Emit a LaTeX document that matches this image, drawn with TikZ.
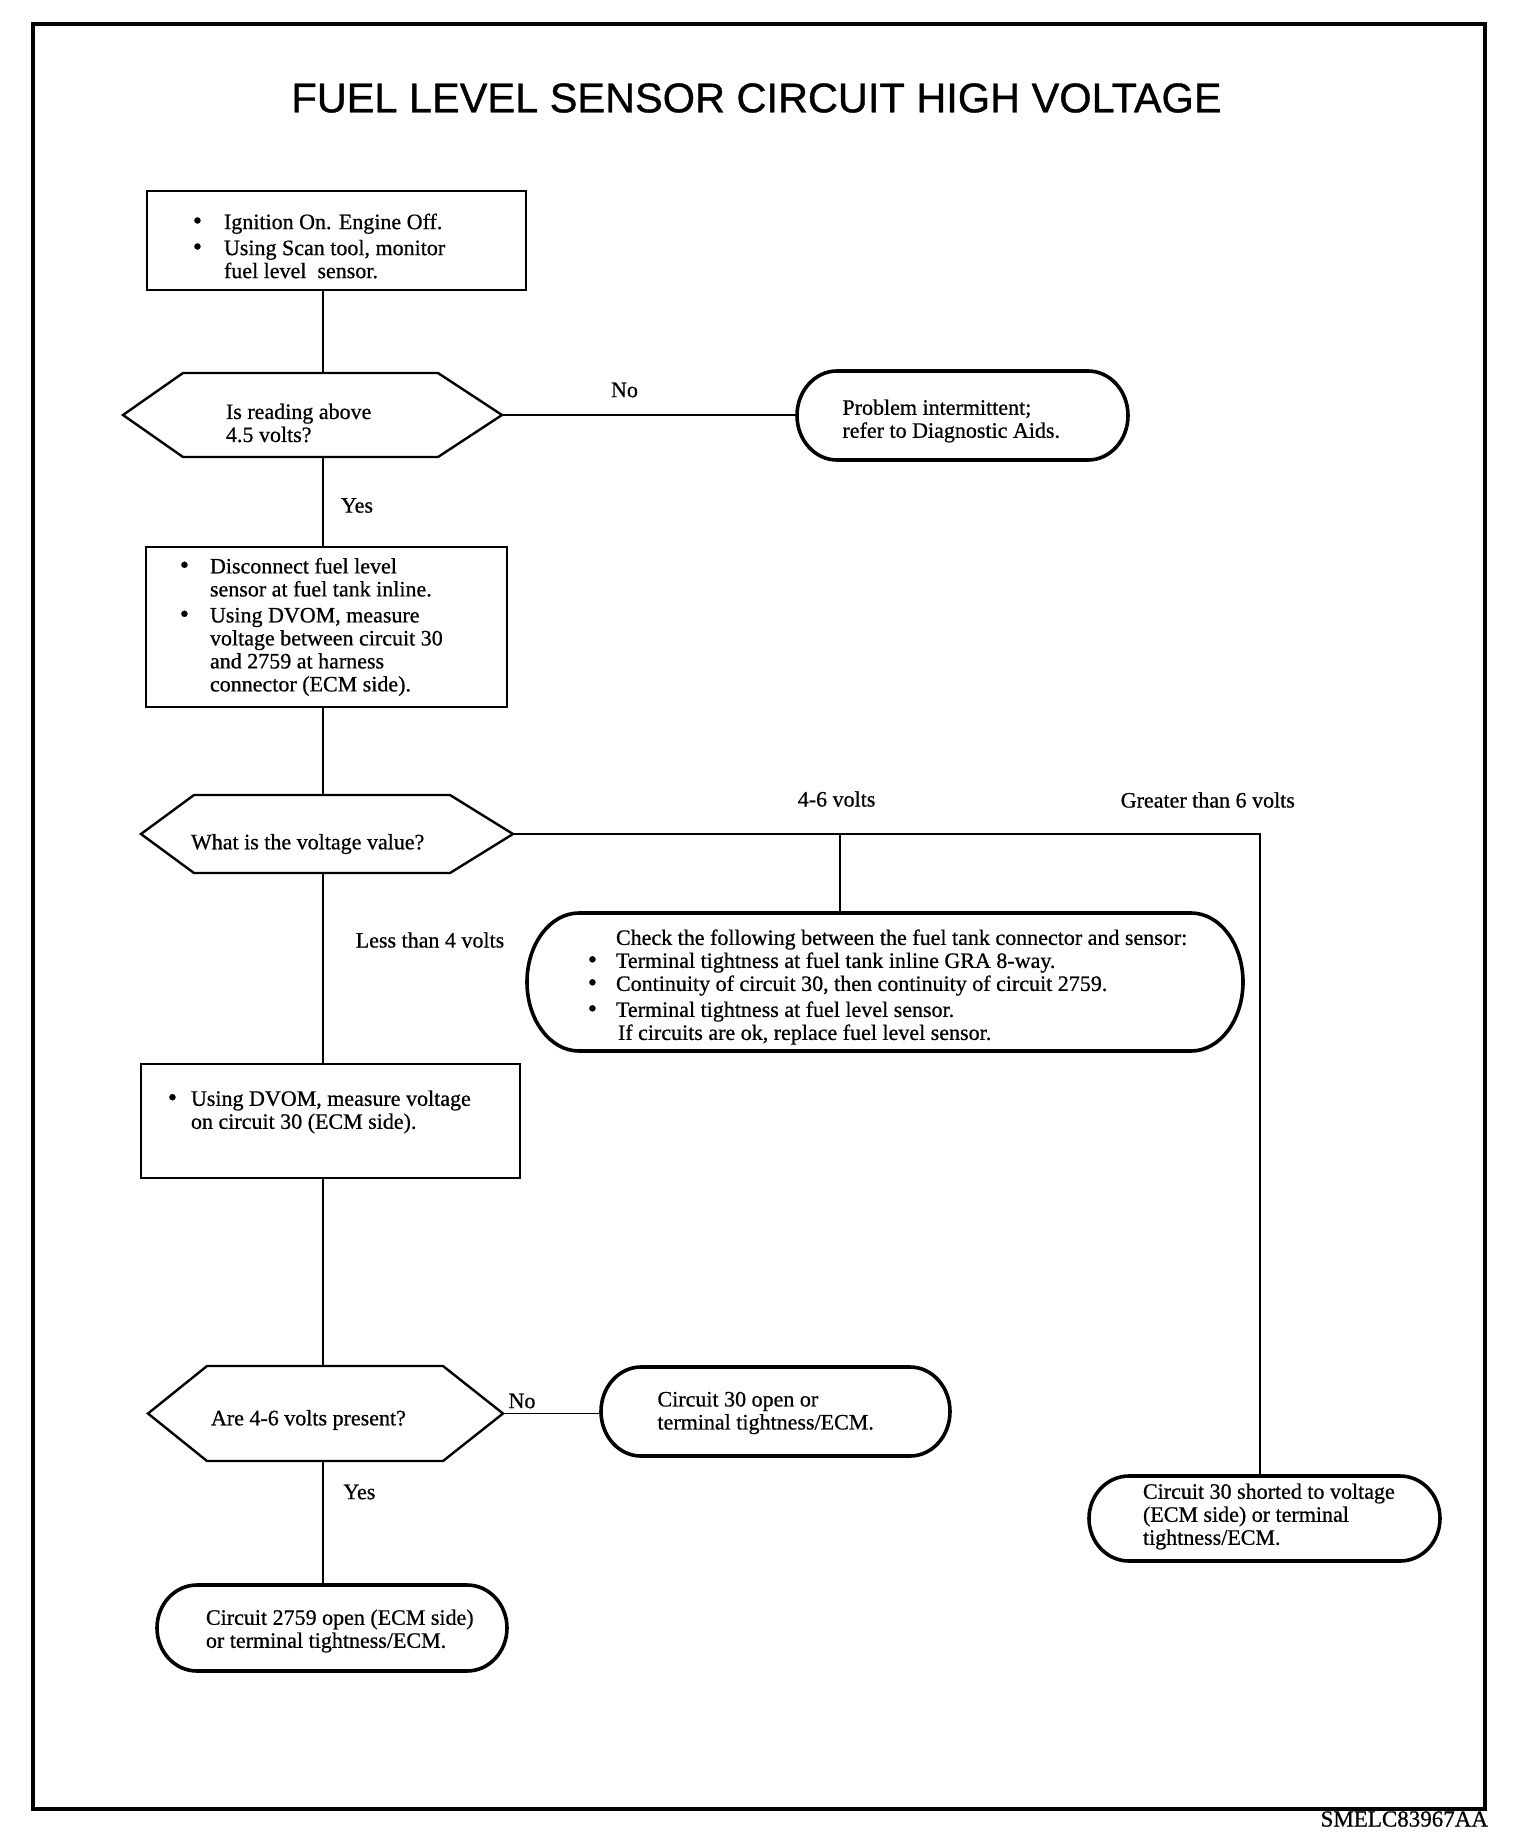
\documentclass[tikz,border=0pt]{standalone}
\usepackage{fontspec}
\setmainfont{Liberation Serif}[FakeBold=0.7]
\newfontfamily\titlefont{Liberation Sans}[FakeBold=0.9]
\usetikzlibrary{calc}
\newcommand\bul[1]{\llap{\smash{\fontsize{26}{23}\selectfont\textbullet}\hspace{#1pt}}}
\newcommand\hexdraw[3]{\draw[hexl] (#1.west) -- ($(#1.north west)+(#2,0)$) -- ($(#1.north east)+(-#3,0)$) -- (#1.east) -- ($(#1.south east)+(-#3,0)$) -- ($(#1.south west)+(#2,0)$) -- cycle;}
\newcommand\termdraw[3]{\draw[terml] ($(#1.north west)+(#2,0)$) -- ($(#1.north east)+(-#2,0)$) arc[start angle=90,end angle=-90,x radius=#2,y radius=#3] -- ($(#1.south west)+(#2,0)$) arc[start angle=270,end angle=90,x radius=#2,y radius=#3] -- cycle;}
\begin{document}
\begin{tikzpicture}[x=1pt,y=1pt,
  every node/.style={inner sep=0pt,outer sep=0pt},
  txt/.style={font=\fontsize{22}{23}\selectfont,align=left,anchor=west},
  lbl/.style={font=\fontsize{22}{23}\selectfont},
  boxs/.style={draw,line width=2pt,rectangle},
  area/.style={rectangle,draw=none},
  conn/.style={line width=1.8pt},
  hexl/.style={line width=2.4pt,line join=miter},
  terml/.style={line width=3.6pt},
]
\useasboundingbox (0,0) rectangle (1520,-1848);
% frame
\node[draw,line width=3.6pt,minimum width=1452pt,minimum height=1785pt] (frame) at (759,-916.5) {};
\node[font=\titlefont\fontsize{41.5}{49}\selectfont] (title) at (756.5,-98) {FUEL LEVEL SENSOR CIRCUIT HIGH VOLTAGE};
\node[font=\fontsize{23}{25}\selectfont,anchor=east] (code) at (1488,-1819) {SMELC83967AA};

% boxes
\node[boxs,minimum width=379pt,minimum height=99pt] (b1) at (336.5,-240.5) {};
\node[boxs,minimum width=361pt,minimum height=160pt] (b2) at (326.5,-627) {};
\node[boxs,minimum width=379pt,minimum height=114pt] (b3) at (330.5,-1121) {};

% decisions
\node[area,minimum width=379pt,minimum height=84pt] (d1) at (312.5,-415) {};
\node[area,minimum width=372pt,minimum height=78pt] (d2) at (327,-834) {};
\node[area,minimum width=355pt,minimum height=95pt] (d3) at (325.5,-1413.5) {};
\hexdraw{d1}{60}{64}
\hexdraw{d2}{53}{63}
\hexdraw{d3}{59}{60}

% terminals
\node[area,minimum width=331pt,minimum height=89pt] (t1) at (962.5,-415.5) {};
\node[area,minimum width=716pt,minimum height=138pt] (t2) at (885,-982) {};
\node[area,minimum width=349pt,minimum height=89pt] (t3) at (775.5,-1411.5) {};
\node[area,minimum width=350pt,minimum height=86pt] (t4) at (332,-1628) {};
\node[area,minimum width=351pt,minimum height=85pt] (t5) at (1264.5,-1518.5) {};
\termdraw{t1}{40}{44.5}
\termdraw{t2}{52}{69}
\termdraw{t3}{40}{44.5}
\termdraw{t4}{40}{43}
\termdraw{t5}{40}{42.5}

% texts
\node[txt] (tb1) at (224,-246) {\bul{22}Ignition On. Engine Off.\\[3pt]\bul{22}Using Scan tool, monitor\\fuel level\ \ sensor.};
\node[txt] (td1) at (226,-423) {Is reading above\\4.5 volts?};
\node[txt] (tt1) at (842.5,-421) {Problem intermittent;\\refer to Diagnostic Aids.};
\node[txt] (tb2) at (210,-627) {\bul{21}Disconnect fuel level\\sensor at fuel tank inline.\\[3pt]\bul{21}Using DVOM, measure\\voltage between circuit 30\\and 2759 at harness\\connector (ECM side).};
\node[txt] (td2) at (191,-844) {What is the voltage value?};
\node[txt] (tt2) at (616,-987) {Check the following between the fuel tank connector and sensor:\\\bul{19}Terminal tightness at fuel tank inline GRA 8-way.\\\bul{19}Continuity of circuit 30, then continuity of circuit 2759.\\[3pt]\bul{19}Terminal tightness at fuel level sensor.\\\hspace*{2pt}If circuits are ok, replace fuel level sensor.};
\node[txt] (tb3) at (191,-1112) {\bul{14}Using DVOM, measure voltage\\on circuit 30 (ECM side).};
\node[txt] (td3) at (211,-1420) {Are 4-6 volts present?};
\node[txt] (tt3) at (657.5,-1413) {Circuit 30 open or\\terminal tightness/ECM.};
\node[txt] (tt4) at (206,-1631) {Circuit 2759 open (ECM side)\\or terminal tightness/ECM.};
\node[txt] (tt5) at (1143,-1516.5) {Circuit 30 shorted to voltage\\(ECM side) or terminal\\tightness/ECM.};

% labels
\node[lbl] (no1) at (624.5,-390) {No};
\node[lbl] (yes1) at (357,-505.5) {Yes};
\node[lbl] (v46) at (836.6,-799) {4-6 volts};
\node[lbl] (vgt) at (1207.8,-800) {Greater than 6 volts};
\node[lbl] (vlt) at (430,-940) {Less than 4 volts};
\node[lbl] (no2) at (522,-1401) {No};
\node[lbl] (yes2) at (359.4,-1492) {Yes};

% connectors
\coordinate (col) at (323,0);
\coordinate (mid) at (840,-834);
\coordinate (gt) at (1260,-834);
\draw[conn] (b1.south -| col) -- (d1.north -| col);
\draw[conn] (d1.south -| col) -- (b2.north -| col);
\draw[conn] (d1.east) -- (d1.east -| t1.west);
\draw[conn] (b2.south -| col) -- (d2.north -| col);
\draw[conn] (d2.south -| col) -- (b3.north -| col);
\draw[conn] (d2.east) -- (gt) -- (gt |- t5.north);
\draw[conn] (mid) -- (mid |- t2.north);
\draw[conn] (b3.south -| col) -- (d3.north -| col);
\draw[conn] (d3.east) -- (d3.east -| t3.west);
\draw[conn] (d3.south -| col) -- (t4.north -| col);
\end{tikzpicture}
\end{document}
